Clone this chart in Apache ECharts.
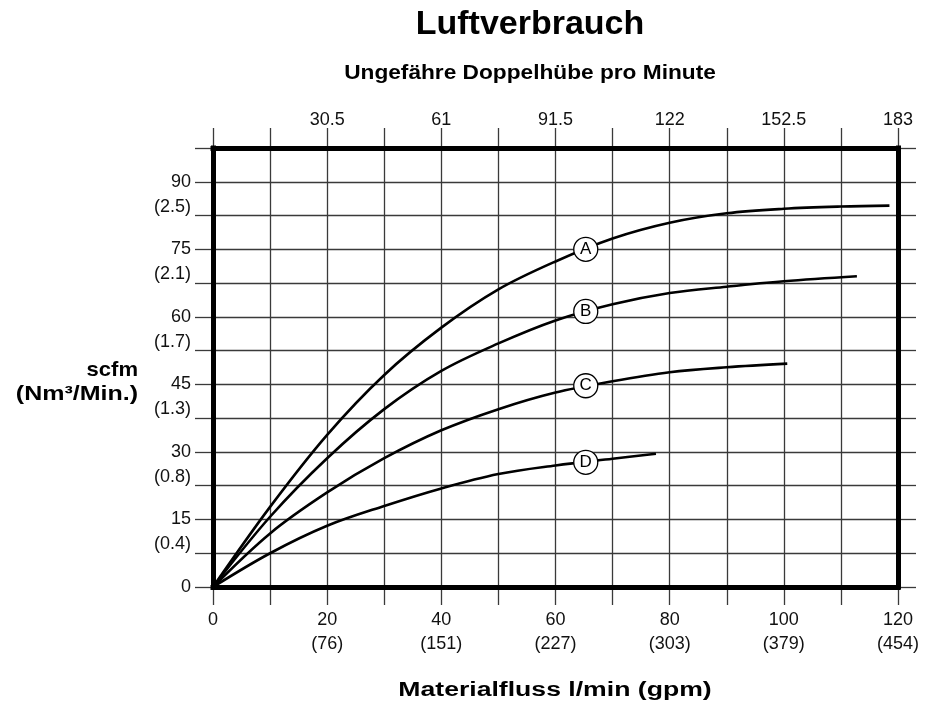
<!DOCTYPE html>
<html>
<head>
<meta charset="utf-8">
<script src="https://cdn.jsdelivr.net/npm/echarts@6/dist/echarts.min.js"></script>
<style>
  html, body { margin: 0; padding: 0; background: #ffffff; }
  #chart { width: 934px; height: 704px; }
</style>
</head>
<body>
<div id="chart"></div>
<script>
// Air consumption (scfm) against material flow (gpm), one curve per operating point A–D.
const curveNames = ['A', 'B', 'C', 'D'];
const curveA = [[0, 0], [10, 17.8], [20, 33.8], [30, 47.1], [40, 57.6], [50, 66.1], [60, 72.3], [70, 77.4], [80, 80.9], [90, 83.0], [100, 84.0], [110, 84.5], [118.5, 84.7]];
const curveB = [[0, 0], [10, 15.6], [20, 28.6], [30, 39.5], [40, 48.0], [50, 54.1], [60, 59.2], [70, 62.8], [80, 65.3], [90, 66.7], [100, 67.9], [112.8, 69.0]];
const curveC = [[0, 0], [10, 11.9], [20, 21.0], [30, 28.6], [40, 34.8], [50, 39.5], [60, 43.2], [70, 45.7], [80, 47.7], [90, 48.8], [100.6, 49.6]];
const curveD = [[0, 0], [10, 7.5], [20, 13.6], [30, 18.0], [40, 21.9], [50, 25.1], [60, 27.0], [70, 28.5], [77.6, 29.6]];

// Circled letters sit on each curve at the same flow value
const markerX = 65.3;
const markerY = [75.0, 61.2, 44.7, 27.7];

// Tick labels
const xTicks = [0, 20, 40, 60, 80, 100, 120];
const xLpm = ['', '76', '151', '227', '303', '379', '454'];
const strokeTicks = [20, 40, 60, 80, 100, 120];
const strokeLabels = ['30.5', '61', '91.5', '122', '152.5', '183'];
const yTicks = [0, 15, 30, 45, 60, 75, 90];
const yNm3 = ['', '0.4', '0.8', '1.3', '1.7', '2.1', '2.5'];

const FONT = '"Liberation Sans", Arial, Helvetica, sans-serif';
const X_MIN = 0, X_MAX = 120, X_STEP = 10;
const Y_MIN = 0, Y_MAX = 97.5, Y_STEP = 7.5;

function findTick(list, v) {
  for (let i = 0; i < list.length; i++) {
    if (Math.abs(list[i] - v) < 1e-6) return i;
  }
  return -1;
}

const gridLineStyle = { color: '#3a3a3a', width: 1.3 };
const tickStyle = { color: '#3a3a3a', width: 1.3 };
const frameLine = { show: true, onZero: false, lineStyle: { color: '#000', width: 5, cap: 'square' } };
const labelBase = { fontFamily: FONT, fontSize: 18, color: '#111' };

function baseX(extra) {
  return Object.assign({ type: 'value', min: X_MIN, max: X_MAX, interval: X_STEP, gridIndex: 0 }, extra);
}
function baseY(extra) {
  return Object.assign({ type: 'value', min: Y_MIN, max: Y_MAX, interval: Y_STEP, gridIndex: 0 }, extra);
}

const hidden = {
  axisLabel: { show: false },
  axisTick: { show: false },
  splitLine: { show: false }
};

const curves = [curveA, curveB, curveC, curveD];

const option = {
  backgroundColor: '#ffffff',
  animation: false,
  grid: { left: 213, top: 148, width: 685, height: 439, outerBoundsMode: 'none', containLabel: false },
  xAxis: [
    // flow scale with grid lines
    baseX({
      position: 'bottom', z: 1,
      axisLine: { show: false, onZero: false },
      axisTick: { show: true, length: 18, lineStyle: tickStyle },
      splitLine: { show: true, showMinLine: false, showMaxLine: false, lineStyle: gridLineStyle },
      axisLabel: Object.assign({}, labelBase, {
        margin: 21, lineHeight: 24, showMinLabel: true, showMaxLabel: true,
        formatter: function (v) {
          const i = findTick(xTicks, v);
          if (i < 0) return '';
          return xLpm[i] ? v + '\n(' + xLpm[i] + ')' : String(v);
        }
      })
    }),
    // strokes-per-minute scale along the top
    baseX({
      position: 'top', z: 1,
      axisLine: { show: false, onZero: false },
      axisTick: { show: true, length: 20, lineStyle: tickStyle },
      splitLine: { show: false },
      axisLabel: Object.assign({}, labelBase, {
        margin: 19, showMinLabel: true, showMaxLabel: true,
        formatter: function (v) {
          const i = findTick(strokeTicks, v);
          return i < 0 ? '' : strokeLabels[i];
        }
      })
    }),
    // heavy frame, bottom and top
    baseX(Object.assign({ position: 'bottom', z: 3, axisLine: frameLine }, hidden)),
    baseX(Object.assign({ position: 'top', z: 3, axisLine: frameLine }, hidden))
  ],
  yAxis: [
    baseY({
      position: 'left', z: 1,
      axisLine: { show: false, onZero: false },
      axisTick: { show: true, length: 18, lineStyle: tickStyle },
      splitLine: { show: true, showMinLine: false, showMaxLine: false, lineStyle: gridLineStyle },
      axisLabel: Object.assign({}, labelBase, {
        margin: 22, lineHeight: 25, showMinLabel: true, showMaxLabel: true,
        formatter: function (v) {
          const i = findTick(yTicks, v);
          if (i < 0) return '';
          return yNm3[i] ? '\n' + v + '\n(' + yNm3[i] + ')' : String(v);
        }
      })
    }),
    baseY({
      position: 'right', z: 1,
      axisLine: { show: false, onZero: false },
      axisTick: { show: true, length: 18, lineStyle: tickStyle },
      axisLabel: { show: false },
      splitLine: { show: false }
    }),
    baseY(Object.assign({ position: 'left', z: 3, axisLine: frameLine }, hidden)),
    baseY(Object.assign({ position: 'right', z: 3, axisLine: frameLine }, hidden))
  ],
  series: curves.map(function (data, i) {
    return {
      name: curveNames[i],
      type: 'line',
      xAxisIndex: 0, yAxisIndex: 0,
      data: data,
      smooth: 0.35,
      showSymbol: false,
      z: 2,
      lineStyle: { color: '#000', width: 2.6 }
    };
  }).concat([{
    name: 'markers',
    type: 'scatter',
    xAxisIndex: 0, yAxisIndex: 0,
    z: 4,
    symbol: 'circle',
    symbolSize: 24,
    itemStyle: { color: '#fff', borderColor: '#000', borderWidth: 1.3, opacity: 1 },
    label: {
      show: true, position: 'inside', color: '#000', fontFamily: FONT, fontSize: 17,
      formatter: function (p) { return curveNames[p.dataIndex]; }
    },
    data: markerY.map(function (y) { return [markerX, y]; })
  }]),
  graphic: [
    { type: 'text', x: 530, y: 25, style: { text: 'Luftverbrauch', font: 'bold 34px ' + FONT, align: 'center', verticalAlign: 'middle', fill: '#000' } },
    { type: 'text', x: 530, y: 73, scaleX: 1.08, style: { text: 'Ungefähre Doppelhübe pro Minute', font: 'bold 21px ' + FONT, align: 'center', verticalAlign: 'middle', fill: '#000' } },
    { type: 'text', x: 555, y: 690, scaleX: 1.33, style: { text: 'Materialfluss l/min (gpm)', font: 'bold 20px ' + FONT, align: 'center', verticalAlign: 'middle', fill: '#000' } },
    { type: 'text', x: 138, y: 370, scaleX: 1.05, style: { text: 'scfm', font: 'bold 21px ' + FONT, align: 'right', verticalAlign: 'middle', fill: '#000' } },
    { type: 'text', x: 138, y: 394, scaleX: 1.25, style: { text: '(Nm³/Min.)', font: 'bold 20px ' + FONT, align: 'right', verticalAlign: 'middle', fill: '#000' } }
  ]
};

const chart = echarts.init(document.getElementById('chart'), null, { renderer: 'canvas' });
chart.setOption(option);
</script>
</body>
</html>
